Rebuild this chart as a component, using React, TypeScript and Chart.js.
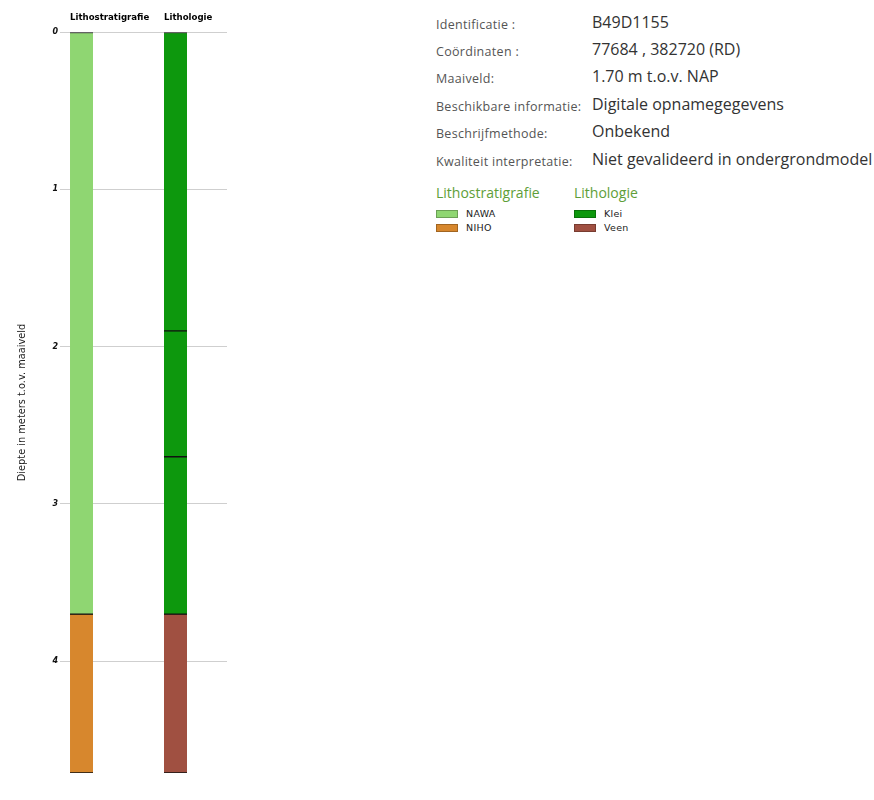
import React, { useEffect, useRef } from "react";
import { Chart, registerables } from "chart.js";

Chart.register(...registerables);

// ---- data ----
const columns = ["Lithostratigrafie", "Lithologie"];
const columnPositions = [1, 2];

const lithostratUnits = ["NAWA", "NIHO"];
const lithostratTops = [0, 3.7];
const lithostratBottoms = [3.7, 4.71];

const lithologyUnits = ["Klei", "Klei", "Klei", "Veen"];
const lithologyTops = [0, 1.9, 2.7, 3.7];
const lithologyBottoms = [1.9, 2.7, 3.7, 4.71];

const depthTicks = [0, 1, 2, 3, 4];
const depthMax = 4.71;

const unitColors: Record<string, string> = {
  NAWA: "#8fd672",
  NIHO: "#d7872d",
  Klei: "#0d980d",
  Veen: "#a05041",
};

const infoLabels = [
  "Identificatie :",
  "Coördinaten :",
  "Maaiveld:",
  "Beschikbare informatie:",
  "Beschrijfmethode:",
  "Kwaliteit interpretatie:",
];
const infoValues = [
  "B49D1155",
  "77684 , 382720 (RD)",
  "1.70 m t.o.v. NAP",
  "Digitale opnamegegevens",
  "Onbekend",
  "Niet gevalideerd in ondergrondmodel",
];

const legendLithostrat = ["NAWA", "NIHO"];
const legendLithology = ["Klei", "Veen"];

function buildDatasets() {
  const ds: any[] = [];
  lithostratUnits.forEach((u, i) => {
    ds.push({
      label: u,
      data: [{ x: columnPositions[0], y: [lithostratTops[i], lithostratBottoms[i]] }],
      backgroundColor: unitColors[u],
    });
  });
  lithologyUnits.forEach((u, i) => {
    ds.push({
      label: u,
      data: [{ x: columnPositions[1], y: [lithologyTops[i], lithologyBottoms[i]] }],
      backgroundColor: unitColors[u],
    });
  });
  return ds.map((d) => ({
    ...d,
    borderColor: "#111",
    borderWidth: { top: 1, bottom: 1, left: 0, right: 0 },
    borderSkipped: false,
    grouped: false,
    barThickness: 23,
  }));
}

function ChartPanel() {
  const ref = useRef<HTMLCanvasElement>(null);
  useEffect(() => {
    if (!ref.current) return;
    const chart = new Chart(ref.current, {
      type: "bar",
      data: { datasets: buildDatasets() },
      options: {
        animation: false,
        responsive: true,
        maintainAspectRatio: false,
        layout: { padding: { left: 0, right: 33, top: 0, bottom: 27 } },
        plugins: { legend: { display: false }, tooltip: { enabled: false } },
        scales: {
          x: {
            type: "linear",
            position: "top",
            offset: false,
            bounds: "data",
            min: 0.803,
            max: 2.548,
            afterBuildTicks: (scale: any) => {
              scale.ticks = columnPositions.map((v) => ({ value: v }));
            },
            afterFit: (scale: any) => {
              scale.height = 32;
            },
            grid: { display: false },
            border: { display: false },
            ticks: {
              align: "start",
              labelOffset: -11.5,
              padding: 1,
              maxRotation: 0,
              autoSkip: false,
              color: "#000",
              font: { family: "DejaVu Sans", weight: "bold", size: 8.6 },
              callback: (v: any) => {
                const idx = columnPositions.indexOf(Number(v));
                return idx >= 0 ? columns[idx] : "";
              },
            },
          },
          y: {
            type: "linear",
            reverse: true,
            min: 0,
            max: depthMax,
            afterBuildTicks: (scale: any) => {
              scale.ticks = depthTicks.map((v) => ({ value: v }));
            },
            afterFit: (scale: any) => {
              scale.width = 63;
            },
            grid: { color: "#cfcfcf", lineWidth: 1, tickLength: 3 },
            border: { display: false },
            ticks: {
              padding: 2,
              color: "#111",
              font: { family: "DejaVu Sans", weight: "bold", style: "italic", size: 8 },
            },
            title: {
              display: true,
              text: "Diepte in meters t.o.v. maaiveld",
              color: "#222",
              font: { family: "DejaVu Sans", size: 9.8 },
              padding: { top: 17, bottom: 4 },
            },
          },
        },
      } as any,
    });
    return () => chart.destroy();
  }, []);
  return (
    <div style={{ position: "absolute", left: 0, top: 0, width: 260, height: 800 }}>
      <canvas ref={ref} />
    </div>
  );
}

function Swatch({ color }: { color: string }) {
  return (
    <span
      style={{
        display: "inline-block",
        width: 20,
        height: 6,
        background: color,
        border: "1px solid rgba(0,0,0,0.25)",
        verticalAlign: "middle",
        marginRight: 8,
      }}
    />
  );
}

function InfoPanel() {
  const rowTops = [0, 1, 2, 3, 4, 5];
  return (
    <div style={{ position: "absolute", left: 436, top: 0, width: 438, height: 260, fontFamily: "'Open Sans', sans-serif" }}>
      {infoLabels.map((l, i) => (
        <div key={l} style={{ position: "absolute", top: 12.5 + rowTops[i] * 27.4, left: 0, height: 22, width: 438 }}>
          <span style={{ position: "absolute", left: 0, top: 3, fontSize: 12.5, letterSpacing: 0.3, color: "#555", whiteSpace: "nowrap" }}>{l}</span>
          <span style={{ position: "absolute", left: 156, top: -2, fontSize: 16, color: "#333", whiteSpace: "nowrap" }}>{infoValues[i]}</span>
        </div>
      ))}
      <div style={{ position: "absolute", top: 183, left: 0, fontSize: 14, color: "#5e9e38", whiteSpace: "nowrap" }}>Lithostratigrafie</div>
      <div style={{ position: "absolute", top: 183, left: 138, fontSize: 14, color: "#5e9e38", whiteSpace: "nowrap" }}>Lithologie</div>
      {legendLithostrat.map((u, i) => (
        <div key={u} style={{ position: "absolute", top: 208 + i * 14, left: 0, fontSize: 9.5, letterSpacing: 0.3, fontFamily: "'DejaVu Sans', sans-serif", color: "#222", lineHeight: "10px", whiteSpace: "nowrap" }}>
          <Swatch color={unitColors[u]} />
          <span style={{ verticalAlign: "middle" }}>{u}</span>
        </div>
      ))}
      {legendLithology.map((u, i) => (
        <div key={u} style={{ position: "absolute", top: 208 + i * 14, left: 138, fontSize: 9.5, letterSpacing: 0.3, fontFamily: "'DejaVu Sans', sans-serif", color: "#222", lineHeight: "10px", whiteSpace: "nowrap" }}>
          <Swatch color={unitColors[u]} />
          <span style={{ verticalAlign: "middle" }}>{u}</span>
        </div>
      ))}
    </div>
  );
}

export default function App() {
  return (
    <div style={{ position: "absolute", left: 0, top: 0, width: 874, height: 800, background: "#fff", overflow: "hidden" }}>
      <ChartPanel />
      <InfoPanel />
    </div>
  );
}
